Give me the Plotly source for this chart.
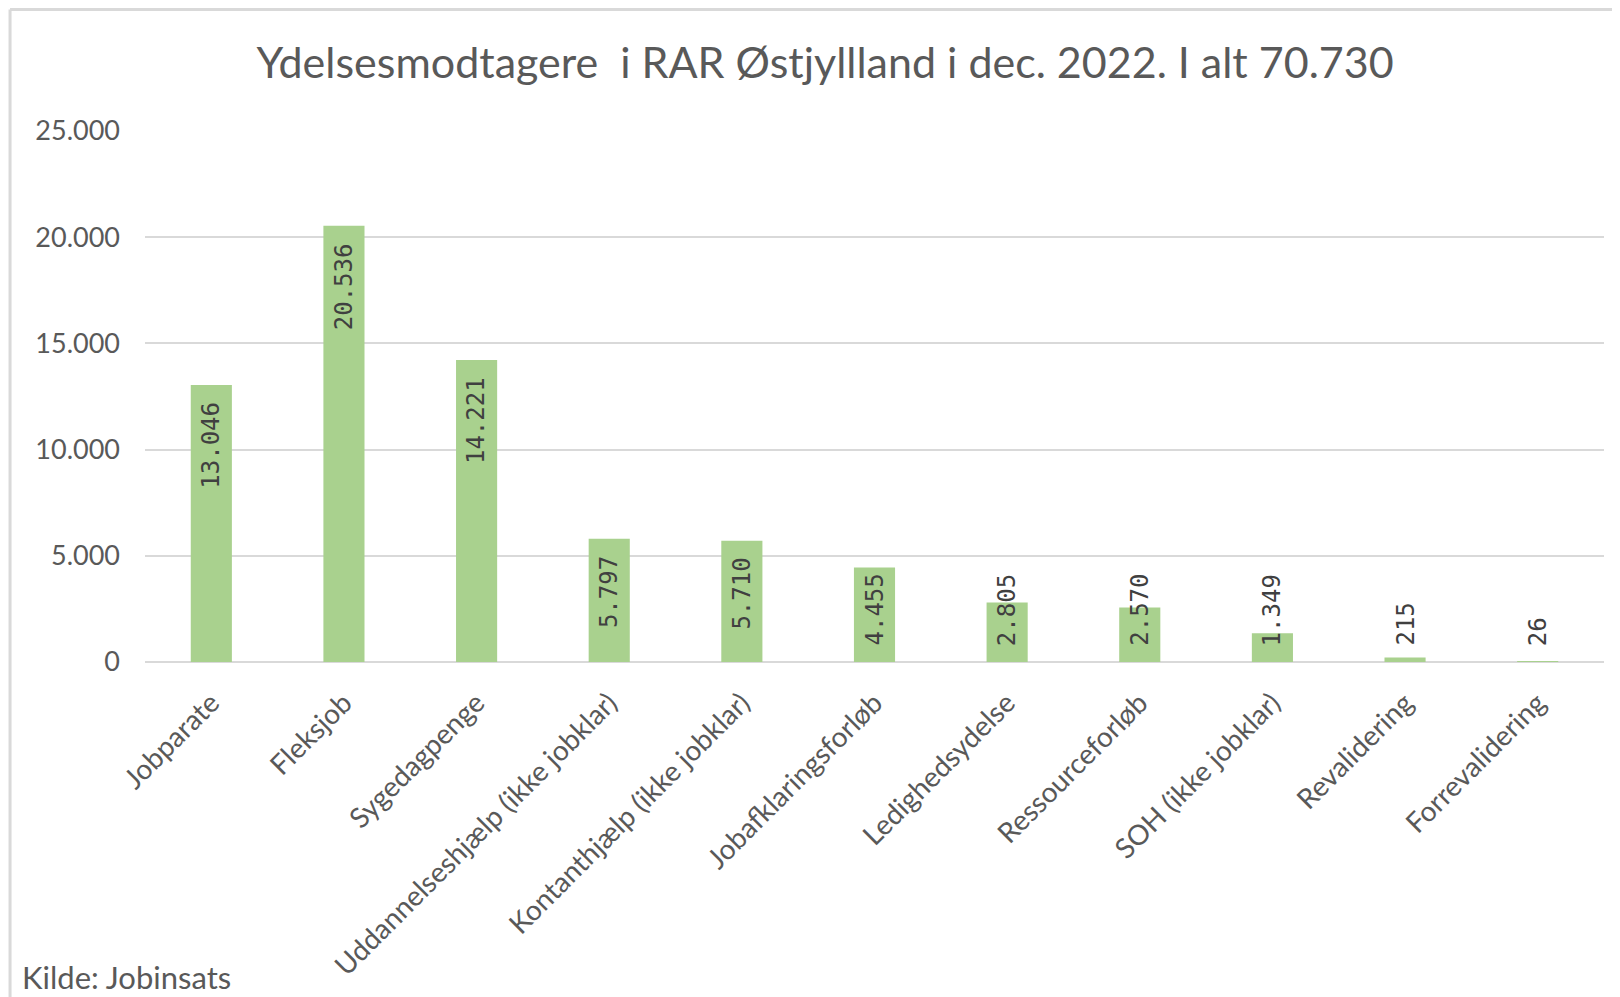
import plotly.graph_objects as go

# data
categories = [
    "Jobparate", "Fleksjob", "Sygedagpenge", "Uddannelseshjælp (ikke jobklar)",
    "Kontanthjælp (ikke jobklar)", "Jobafklaringsforløb", "Ledighedsydelse",
    "Ressourceforløb", "SOH (ikke jobklar)", "Revalidering", "Forrevalidering",
]
values = [13046, 20536, 14221, 5797, 5710, 4455, 2805, 2570, 1349, 215, 26]
y_ticks = [0, 5000, 10000, 15000, 20000, 25000]

title_text = "Ydelsesmodtagere  i RAR Østjyllland i dec. 2022. I alt 70.730"
source_text = "Kilde: Jobinsats"

BAR_COLOR = "#A9D18E"
GRID_COLOR = "#D9D9D9"
TEXT_COLOR = "#595959"
LABEL_COLOR = "#404040"

# the page body adds an 8px margin, so the figure is 8px smaller each way
W, H = 1612, 989


def fmt(v):
    return f"{v:,}".replace(",", ".")


fig = go.Figure()
fig.add_trace(go.Bar(
    x=categories, y=values,
    marker=dict(color=BAR_COLOR, line=dict(width=0)),
    hoverinfo="x+y",
))

# value labels, rotated; small bars get their label lifted off the baseline
for cat, v in zip(categories, values):
    if v >= 5000:
        fig.add_annotation(x=cat, y=v, yanchor="top", yshift=-15)
    else:
        fig.add_annotation(x=cat, y=0, yanchor="bottom", yshift=14)
    fig.layout.annotations[-1].update(
        text=fmt(v), textangle=-90, showarrow=False, xanchor="center",
        font=dict(family="DejaVu Sans Mono", size=24, color=LABEL_COLOR),
    )

fig.add_annotation(
    text=source_text, xref="paper", yref="paper", x=-0.086, y=-0.593,
    xanchor="left", yanchor="middle", showarrow=False,
    font=dict(family="Lato", size=31, color=TEXT_COLOR),
)

# light frame around the chart (top and left edges visible in the reference)
fig.add_shape(type="line", xref="paper", yref="paper", x0=-0.0925, x1=1.02,
              y0=1.229, y1=1.229, line=dict(color=GRID_COLOR, width=3))
fig.add_shape(type="line", xref="paper", yref="paper", x0=-0.0925, x1=-0.0925,
              y0=-0.7, y1=1.229, line=dict(color=GRID_COLOR, width=3))

fig.update_layout(
    width=W, height=H,
    margin=dict(l=137, r=16, t=123, b=335),
    paper_bgcolor="white", plot_bgcolor="white",
    separators=",.",
    bargap=0.69,
    showlegend=False,
    title=dict(
        text=title_text, x=817 / W, xref="container", xanchor="center",
        y=1 - 55 / H, yref="container", yanchor="middle",
        font=dict(family="Lato", size=43, color=TEXT_COLOR),
    ),
    font=dict(family="Lato", color=TEXT_COLOR),
)
fig.update_xaxes(
    tickangle=-45, tickfont=dict(size=28, color=TEXT_COLOR),
    showgrid=False, showline=False, ticks="", ticklabelstandoff=18,
)
fig.update_yaxes(
    range=[0, 25000], tickvals=y_ticks, tickformat=",d",
    tickfont=dict(size=27, color=TEXT_COLOR),
    showgrid=True, gridcolor=GRID_COLOR, gridwidth=2,
    zeroline=True, zerolinecolor=GRID_COLOR, zerolinewidth=2,
    showline=False, ticks="", ticklabelstandoff=24,
)

fig.write_html("out.html")
